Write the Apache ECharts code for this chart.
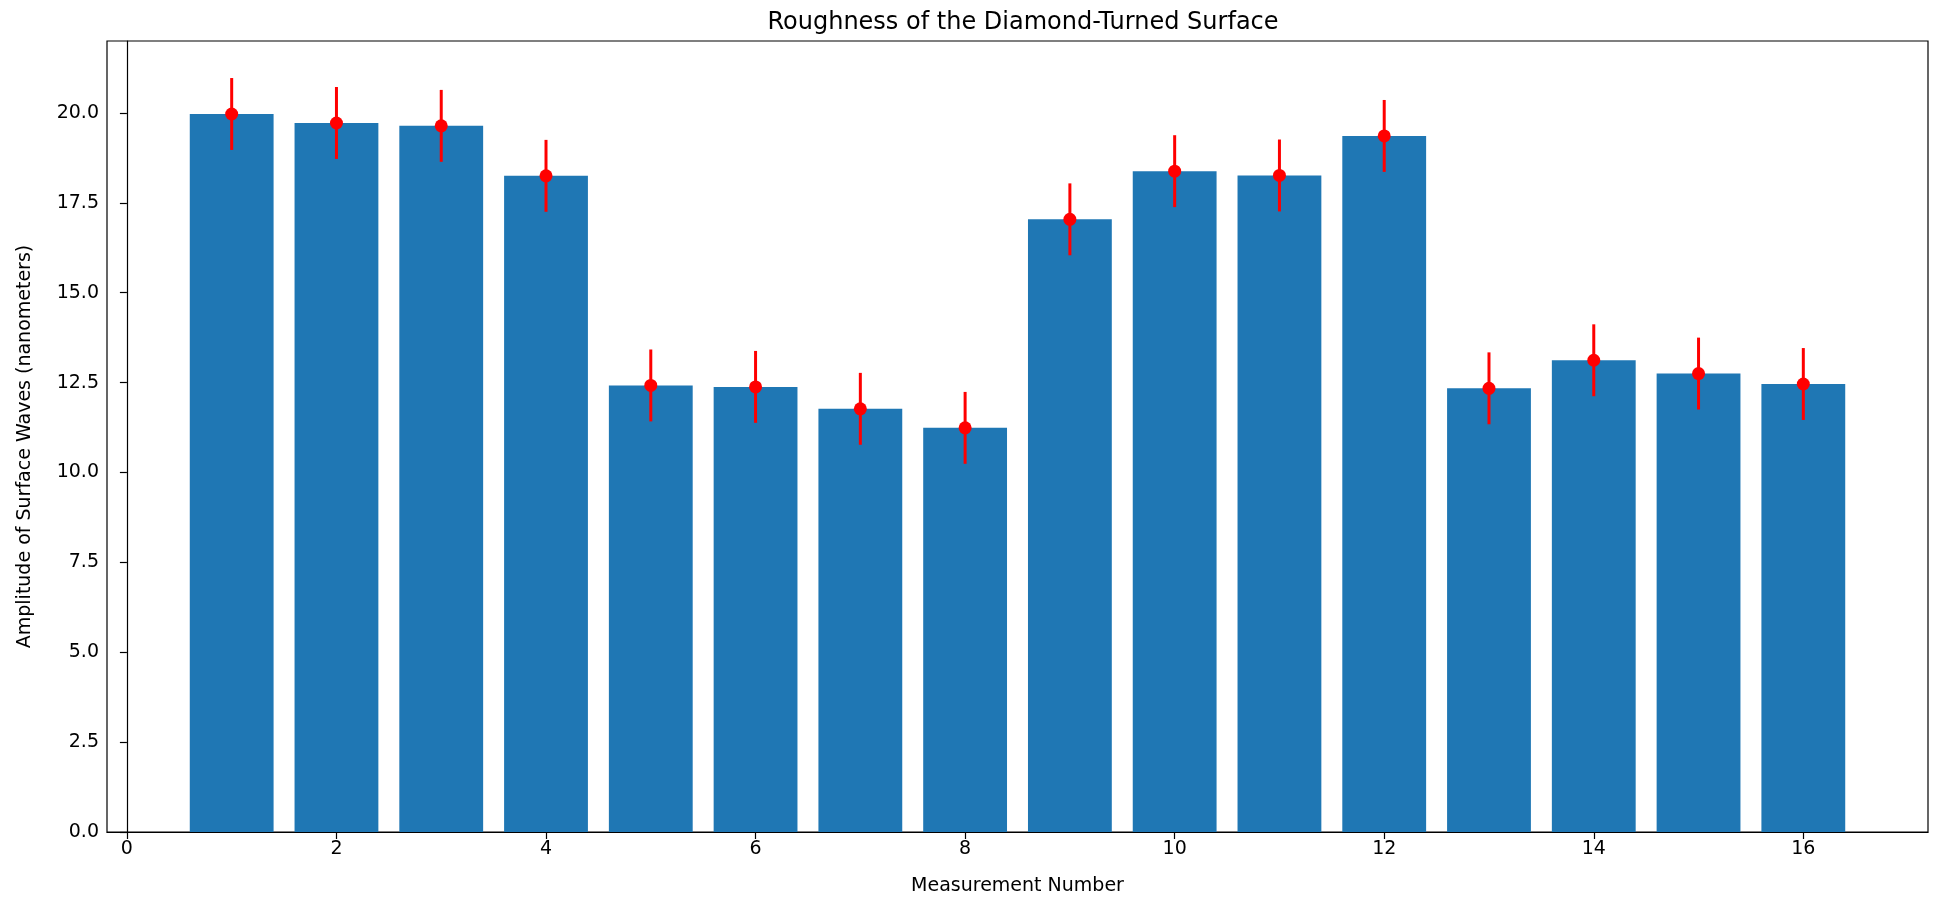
<!DOCTYPE html>
<html>
<head>
<meta charset="utf-8">
<script src="https://cdn.jsdelivr.net/npm/echarts@6/dist/echarts.min.js"></script>
<style>
html,body{margin:0;padding:0;background:#fff;}
#chart{width:1934px;height:898px;}
</style>
</head>
<body>
<div id="chart"></div>
<script>
// Data
const measurementNumbers = [1,2,3,4,5,6,7,8,9,10,11,12,13,14,15,16];
const amplitudes = [19.97,19.72,19.64,18.25,12.42,12.38,11.77,11.24,17.04,18.38,18.26,19.36,12.34,13.12,12.75,12.46];
const errors = [1.0,1.0,1.0,1.0,1.0,1.0,1.0,1.0,1.0,1.0,1.0,1.0,1.0,1.0,1.0,1.0];
const xTickValues = [0,2,4,6,8,10,12,14,16];
const yTickValues = [0,2.5,5,7.5,10,12.5,15,17.5,20];

const FONT = 'DejaVu Sans';
const barData = measurementNumbers.map((x,i)=>[x, amplitudes[i]]);
const errData = measurementNumbers.map((x,i)=>[x, amplitudes[i]-errors[i], amplitudes[i]+errors[i]]);

const chart = echarts.init(document.getElementById('chart'), null, {renderer:'canvas'});
chart.setOption({
  backgroundColor:'#ffffff',
  animation:false,
  title:{
    text:'Roughness of the Diamond-Turned Surface',
    left:1018, top:6, textAlign:'center',
    textStyle:{fontFamily:FONT,fontSize:24,fontWeight:'normal',color:'#000'}
  },
  grid:{left:107,right:6,top:41,bottom:66,outerBoundsMode:'none',containLabel:false,show:true,borderColor:'#000',borderWidth:1.2,backgroundColor:'transparent'},
  xAxis:{
    type:'value', min:-0.19, max:17.19,
    name:'Measurement Number', nameLocation:'middle', nameGap:45,
    nameTextStyle:{fontFamily:FONT,fontSize:19,color:'#000'},
    axisLine:{show:true,onZero:false,lineStyle:{color:'#000',width:1.2}},
    axisTick:{show:true,length:7,lineStyle:{color:'#000',width:1.2},customValues:xTickValues},
    axisLabel:{fontFamily:FONT,fontSize:19,color:'#000',margin:8,customValues:xTickValues,formatter:v=>String(v)},
    splitLine:{show:false}
  },
  yAxis:{
    type:'value', min:0, max:22,
    name:'Amplitude of Surface Waves (nanometers)', nameLocation:'middle', nameGap:72,
    nameTextStyle:{fontFamily:FONT,fontSize:19,color:'#000',padding:[0,20,0,0]},
    axisLine:{show:true,lineStyle:{color:'#000',width:1.2}},
    axisTick:{show:true,length:7,lineStyle:{color:'#000',width:1.2},customValues:yTickValues},
    axisLabel:{fontFamily:FONT,fontSize:19,color:'#000',margin:8,customValues:yTickValues,formatter:v=>v.toFixed(1)},
    splitLine:{show:false}
  },
  series:[
    {
      type:'custom',
      data:barData,
      encode:{x:0,y:1},
      renderItem:function(params, api){
        const x = api.value(0), y = api.value(1);
        const p1 = api.coord([x-0.4, y]);
        const p2 = api.coord([x+0.4, 0]);
        return {type:'rect', shape:{x:p1[0], y:p1[1], width:p2[0]-p1[0], height:p2[1]-p1[1]},
          style:{fill:'#1f77b4'}};
      },
      z:1
    },
    {
      type:'custom',
      data:errData,
      encode:{x:0,y:[1,2]},
      renderItem:function(params, api){
        const x = api.value(0);
        const lo = api.coord([x, api.value(1)]);
        const hi = api.coord([x, api.value(2)]);
        return {type:'line', shape:{x1:lo[0],y1:lo[1],x2:hi[0],y2:hi[1]},
          style:{stroke:'#ff0000',lineWidth:3}};
      },
      z:2
    },
    {
      type:'scatter',
      data:barData,
      symbol:'circle', symbolSize:13,
      itemStyle:{color:'#ff0000',opacity:1},
      z:3
    }
  ]
});
</script>
</body>
</html>
